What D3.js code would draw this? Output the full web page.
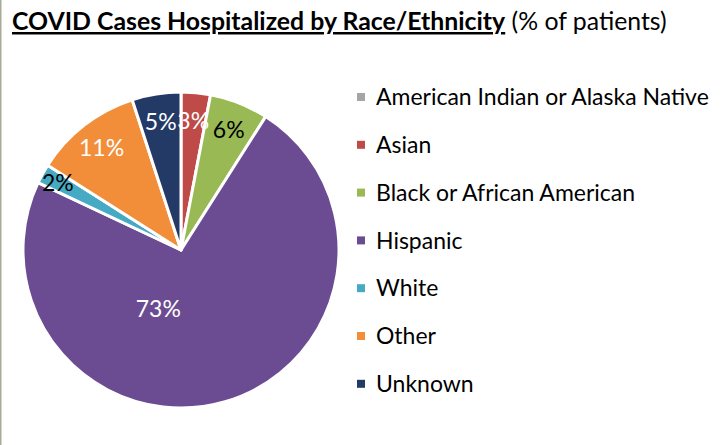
<!DOCTYPE html>
<html>
<head>
<meta charset="utf-8">
<script src="https://cdn.jsdelivr.net/npm/d3@7"></script>
<style>
  body { margin: 0; background: #fff; }
  svg { display: block; font-family: Lato, "Open Sans", sans-serif; }
</style>
</head>
<body>
<svg id="chart" width="721" height="445"></svg>
<script>
// Datos
const categorias = ['American Indian or Alaska Native', 'Asian', 'Black or African American', 'Hispanic', 'White', 'Other', 'Unknown'];
const porcentajes = [0, 3, 6, 73, 2, 11, 5];
const colores = ['#a5a5a5', '#be4b48', '#98b954', '#6b4c93', '#46aac5', '#f28e3a', '#243a66'];
const colorEtiqueta = ['#fff', '#fff', '#000', '#fff', '#000', '#fff', '#fff'];

const svg = d3.select('#chart');

// borde izquierdo
svg.append('line')
  .attr('x1', 0.75).attr('x2', 0.75)
  .attr('y1', 0).attr('y2', 445)
  .attr('stroke', '#a7aa97')
  .attr('stroke-width', 1.5);

// Titulo
const titulo = svg.append('text')
  .attr('x', 12)
  .attr('y', 30)
  .style('font-size', '25px');
titulo.append('tspan')
  .attr('font-weight', 'bold')
  .attr('text-decoration', 'underline')
  .text('COVID Cases Hospitalized by Race/Ethnicity');
titulo.append('tspan')
  .text(' (% of patients)');

// ajustar ancho del titulo
const anchoTitulo = titulo.node().getComputedTextLength();
titulo.style('font-size', (25 * 655 / anchoTitulo) + 'px');

// Pie
const cx = 181, cy = 250, radio = 158;
const datos = categorias.map((c, i) => ({ categoria: c, valor: porcentajes[i], i }));

const pie = d3.pie().value(d => d.valor).sort(null);
const arc = d3.arc().innerRadius(0).outerRadius(radio);

const g = svg.append('g').attr('transform', `translate(${cx}, ${cy})`);

const arcos = pie(datos);

g.selectAll('path')
  .data(arcos)
  .enter()
  .append('path')
  .attr('d', arc)
  .attr('fill', d => colores[d.data.i])
  .attr('stroke', '#fff')
  .attr('stroke-width', 3)
  .attr('stroke-linejoin', 'round');

// posicion de etiqueta tipo "best fit"
function posEtiqueta(d) {
  let r = radio * 0.82;
  let a = (d.startAngle + d.endAngle) / 2;
  if (d.data.valor > 50) {
    r = radio * 0.4;
    a += 0.65;
  } else if (d.data.valor < 3) {
    r = radio * 0.89;
  }
  return [Math.sin(a) * r, -Math.cos(a) * r];
}

// Etiquetas de porcentaje
g.selectAll('text.pct')
  .data(arcos.filter(d => d.data.valor > 0))
  .enter()
  .append('text')
  .attr('class', 'pct')
  .attr('transform', d => `translate(${posEtiqueta(d)})`)
  .attr('text-anchor', 'middle')
  .attr('dy', '0.36em')
  .style('font-size', '23px')
  .style('fill', d => colorEtiqueta[d.data.i])
  .text(d => d.data.valor + '%');

// Leyenda
const leyenda = svg.append('g').attr('transform', 'translate(357, 97)');
const filas = leyenda.selectAll('g')
  .data(categorias)
  .enter()
  .append('g')
  .attr('transform', (d, i) => `translate(0, ${i * 47.8})`);

filas.append('rect')
  .attr('x', 0).attr('y', -4)
  .attr('width', 8).attr('height', 8)
  .attr('fill', (d, i) => colores[i]);

filas.append('text')
  .attr('x', 19)
  .attr('dy', '0.36em')
  .style('font-size', '22px')
  .style('fill', '#000')
  .text(d => d);

// ajustar leyenda al ancho
const anchoLeyenda = filas.select('text').node().getComputedTextLength();
filas.selectAll('text').style('font-size', (22 * 333 / anchoLeyenda) + 'px');
</script>
</body>
</html>
